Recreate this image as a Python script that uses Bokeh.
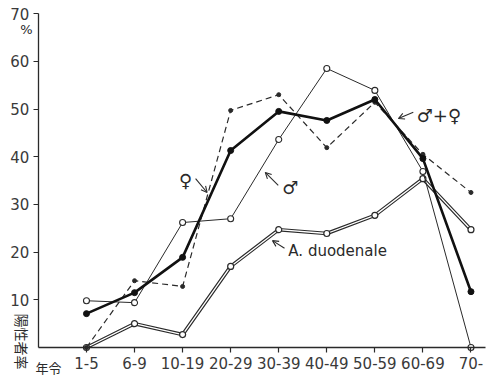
import math
from bokeh.plotting import figure
from bokeh.models import FixedTicker, Label, Arrow, OpenHead
from bokeh.embed import file_html
from bokeh.resources import INLINE

ages = ["1-5", "6-9", "10-19", "20-29", "30-39", "40-49", "50-59", "60-69", "70-"]
total = [7.1, 11.5, 18.9, 41.3, 49.5, 47.6, 52.0, 39.6, 11.7]
male = [9.8, 9.4, 26.2, 27.0, 43.6, 58.5, 53.9, 36.9, 0.0]
female = [0.0, 14.0, 12.8, 49.7, 53.0, 41.9, 51.4, 40.5, 32.5]
duodenale = [0.0, 5.0, 2.7, 17.0, 24.7, 23.9, 27.7, 35.4, 24.7]
y_ticks = [10, 20, 30, 40, 50, 60, 70]

x = list(range(len(ages)))
INK = "#2a2a2a"
FONT = "DejaVu Sans"

# frame spans the whole canvas; axes are pinned inside it
p = figure(width=491, height=381, x_range=(-1.789, 8.427), y_range=(-7.13, 72.75),
           min_border_left=0, min_border_right=0, min_border_top=0, min_border_bottom=0,
           toolbar_location=None, output_backend="svg",
           background_fill_color="white", border_fill_color="white")
p.outline_line_color = None
p.grid.visible = False

for ax in (p.xaxis[0], p.yaxis[0]):
    ax.axis_line_color = INK
    ax.axis_line_width = 1.3
    ax.major_tick_line_color = INK
    ax.major_tick_line_width = 1.2
    ax.minor_tick_line_color = None
    ax.major_tick_in = 0
    ax.major_tick_out = 5
    ax.major_label_text_font = FONT
    ax.major_label_text_font_size = "15px"
    ax.major_label_text_color = "#3a3a3a"

p.yaxis[0].major_label_standoff = 4
p.xaxis[0].major_label_standoff = 5
p.yaxis[0].ticker = FixedTicker(ticks=y_ticks)
p.xaxis[0].ticker = FixedTicker(ticks=x)
p.xaxis[0].major_label_overrides = {i: a for i, a in enumerate(ages)}
p.yaxis[0].fixed_location = -1.0
p.yaxis[0].bounds = (0, 70)
p.xaxis[0].fixed_location = 0
p.xaxis[0].bounds = (-1.0, 8.3)

# A. duodenale: double line
p.line(x, duodenale, line_color=INK, line_width=3.6)
p.line(x, duodenale, line_color="white", line_width=1.3)
p.scatter(x, duodenale, size=6, fill_color="white", line_color=INK, line_width=1.2)

# male: thin line with open circles
p.line(x, male, line_color=INK, line_width=1.0)
p.scatter(x, male, size=6, fill_color="white", line_color=INK, line_width=1.1)

# female: dashed with small dots
p.line(x, female, line_color=INK, line_width=1.2, line_dash="6 4")
p.scatter(x, female, size=4, fill_color=INK, line_color=INK)

# total: thick line with filled dots
p.line(x, total, line_color="#111111", line_width=2.6)
p.scatter(x, total, size=6, fill_color="#111111", line_color="#111111")

# annotations
def lab(txt, xx, yy, size="15px", align="left", base="middle", font=FONT, angle=0.0):
    p.add_layout(Label(x=xx, y=yy, text=txt, text_font=font, text_font_size=size,
                       text_color=INK, text_align=align, text_baseline=base, angle=angle))

def arr(x0, y0, x1, y1):
    p.add_layout(Arrow(x_start=x0, y_start=y0, x_end=x1, y_end=y1, line_color=INK, line_width=1.1,
                       end=OpenHead(size=6, line_color=INK, line_width=1.1)))

lab("♀", 2.06, 35.0, size="18px", align="center")
arr(2.27, 35.4, 2.51, 32.5)
lab("♂", 4.24, 33.5, size="18px", align="center")
arr(3.99, 34.0, 3.72, 36.7)
lab("♂+♀", 6.87, 48.6, size="18px")
arr(6.80, 49.3, 6.49, 48.0)
lab("A. duodenale", 4.2, 20.3, size="15px")
arr(4.12, 20.8, 3.87, 22.4)

# texts beside the axes
lab("%", -1.248, 66.67, size="13px", align="center")
lab("年令", -1.061, -4.19, size="13px", font="Noto Sans CJK JP")
lab("陽性者率", -1.352, 7.13, size="14px", font="Noto Sans CJK JP", angle=-math.pi / 2)

open("out.html", "w").write(file_html(p, INLINE))
